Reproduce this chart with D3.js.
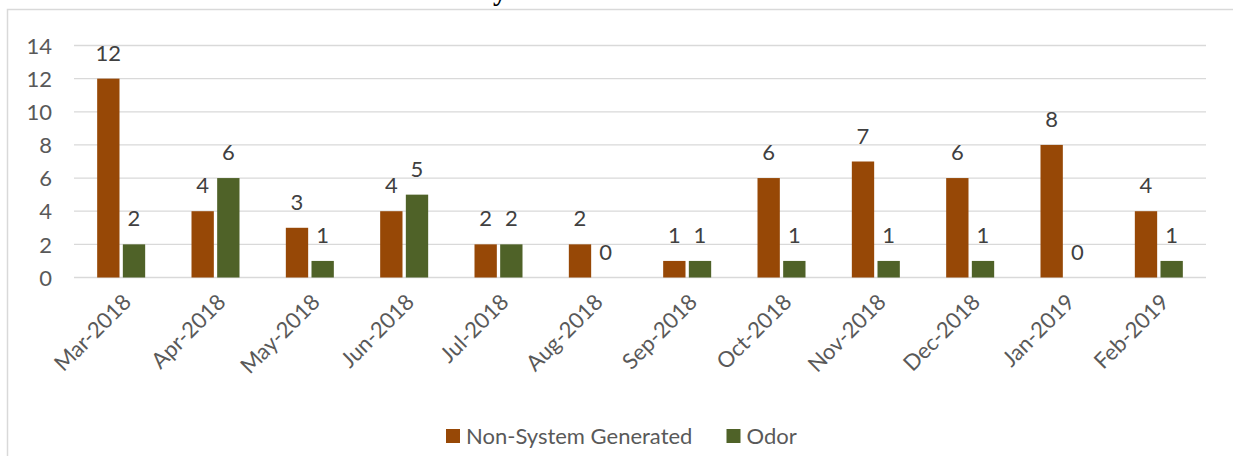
<!DOCTYPE html>
<html>
<head>
<meta charset="utf-8">
<script src="https://cdn.jsdelivr.net/npm/d3@7"></script>
<style>
  html, body { margin: 0; padding: 0; background: #fff; }
  text { font-family: Lato, "Open Sans", sans-serif; fill: #595959; }
</style>
</head>
<body>
<div id="chart"></div>
<script>
// months on the x axis
const months = ['Mar-2018','Apr-2018','May-2018','Jun-2018','Jul-2018','Aug-2018',
  'Sep-2018','Oct-2018','Nov-2018','Dec-2018','Jan-2019','Feb-2019']
const seriesNames = ['Non-System Generated', 'Odor']
const nonSystem = [12, 4, 3, 4, 2, 2, 1, 6, 7, 6, 8, 4]
const odor = [2, 6, 1, 5, 2, 0, 1, 1, 1, 1, 0, 1]
const yTicks = [0, 2, 4, 6, 8, 10, 12, 14]
const colors = ['#974806', '#4f6228']

var width = 1233,
    height = 456,
    fontSize = '22px';

var svg = d3.select('#chart')
  .append('svg')
  .attr('width', width)
  .attr('height', height)

// chart frame (runs off the right and bottom of the picture)
svg.append('rect')
  .attr('x', 7.5).attr('y', 9.5)
  .attr('width', width + 10).attr('height', height + 10)
  .attr('fill', 'none')
  .attr('stroke', '#d9d9d9')
  .attr('stroke-width', 1.5)

// tail of the cut-off title
svg.append('text')
  .attr('x', 493).attr('y', 0)
  .style('font-family', '"Liberation Serif", serif')
  .style('font-weight', 'bold')
  .style('font-size', '28px')
  .style('fill', '#000')
  .text('y')

const x0 = d3.scaleBand().domain(months).range([74, 1206])
const x1 = d3.scaleBand().domain(seriesNames).range([0, 48]).paddingInner(0.13)
const y = d3.scaleLinear().domain([0, 14]).range([277.5, 45.5])

// gridlines
svg.append('g')
  .selectAll('line')
  .data(yTicks)
  .enter()
  .append('line')
  .attr('x1', 74).attr('x2', 1206)
  .attr('y1', d => y(d)).attr('y2', d => y(d))
  .attr('stroke', '#d9d9d9')
  .attr('stroke-width', 1.3)

// y axis labels
const yAxis = svg.append('g')
  .attr('transform', 'translate(52,0)')
  .call(d3.axisLeft(y).tickValues(yTicks).tickSize(0).tickPadding(0))
yAxis.select('.domain').remove()
yAxis.selectAll('text')
  .style('font-size', fontSize)
  .style('fill', '#595959')
  .style('font-family', 'Lato, sans-serif')
  .attr('dy', '0.35em')

const rows = months.map((m, i) => ({ month: m, values: [nonSystem[i], odor[i]] }))

const groups = svg.append('g')
  .selectAll('g')
  .data(rows)
  .enter()
  .append('g')
  .attr('transform', d => `translate(${x0(d.month) + x0.bandwidth() / 2 - 24},0)`)

groups.selectAll('rect')
  .data(d => d.values.map((v, k) => ({ key: seriesNames[k], v: v, k: k })))
  .enter()
  .append('rect')
  .attr('x', d => x1(d.key))
  .attr('width', x1.bandwidth())
  .attr('y', d => y(d.v))
  .attr('height', d => y(0) - y(d.v))
  .attr('fill', d => colors[d.k])

groups.selectAll('text')
  .data(d => d.values.map((v, k) => ({ key: seriesNames[k], v: v, k: k })))
  .enter()
  .append('text')
  .attr('x', d => x1(d.key) + x1.bandwidth() / 2)
  .attr('y', d => y(d.v) - 18)
  .attr('text-anchor', 'middle')
  .style('font-size', fontSize)
  .style('fill', '#404040')
  .text(d => d.v)

// x axis labels, rotated
svg.append('g')
  .selectAll('text')
  .data(months)
  .enter()
  .append('text')
  .attr('transform', d => `translate(${x0(d) + x0.bandwidth() / 2 + 6},${298}) rotate(-45)`)
  .attr('text-anchor', 'end')
  .attr('dy', '0.35em')
  .style('font-size', fontSize)
  .text(d => d)

// legend
const legend = svg.append('g')
  .selectAll('g')
  .data(seriesNames)
  .enter()
  .append('g')
  .attr('transform', (d, i) => `translate(${i == 0 ? 446 : 726.5},429)`)

legend.append('rect')
  .attr('width', 14).attr('height', 14)
  .attr('fill', (d, i) => colors[i])

legend.append('text')
  .attr('x', 20).attr('y', 7)
  .attr('dy', '0.35em')
  .style('font-size', fontSize)
  .text(d => d)
</script>
</body>
</html>
